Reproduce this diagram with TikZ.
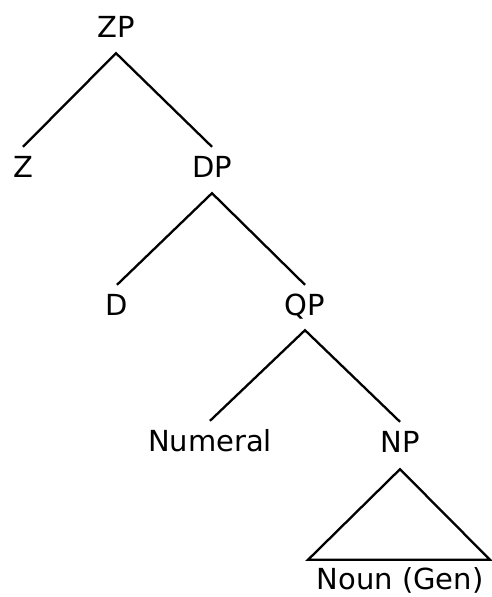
\documentclass[tikz,border=0pt]{standalone}
\usepackage{fontspec}
\setmainfont{DejaVu Sans}
\begin{document}
\begin{tikzpicture}[x=1pt, y=-1pt,
  lbl/.style={font=\fontsize{29}{34}\selectfont, anchor=base, inner sep=0pt,
              text height=21pt, text depth=0pt},
  branch/.style={line width=2.3pt, line cap=butt}]
  \useasboundingbox (0,0) rectangle (491,597);

  % category labels (x = centre, y = baseline)
  \node[lbl] (zp)  at (116,37)  {ZP};
  \node[lbl] (z)   at (23,177)  {Z};
  \node[lbl] (dp)  at (212,177) {DP};
  \node[lbl] (d)   at (117,315) {D};
  \node[lbl] (qp)  at (305,315) {QP};
  \node[lbl] (num) at (210,451) {Numeral};
  \node[lbl] (np)  at (400,452) {NP};
  \node[lbl] (noun) at (400,589) {Noun (Gen)};

  % branches: from a point below the mother to a point above each daughter
  \draw[branch] ([yshift=9pt]z.north)   -- ([yshift=-16pt]zp.south) -- ([yshift=9pt]dp.north);
  \draw[branch] ([yshift=9pt]d.north)   -- ([yshift=-16pt]dp.south) -- ([yshift=9pt]qp.north);
  \draw[branch] ([yshift=9pt]num.north) -- ([yshift=-15pt]qp.south) -- ([yshift=9pt]np.north);

  % triangle over the unanalysed NP
  \draw[branch] ([yshift=-17pt]np.south)
    -- ([xshift=-92pt,yshift=8pt]noun.north)
    -- ([xshift=90pt,yshift=8pt]noun.north) -- cycle;
\end{tikzpicture}
\end{document}
